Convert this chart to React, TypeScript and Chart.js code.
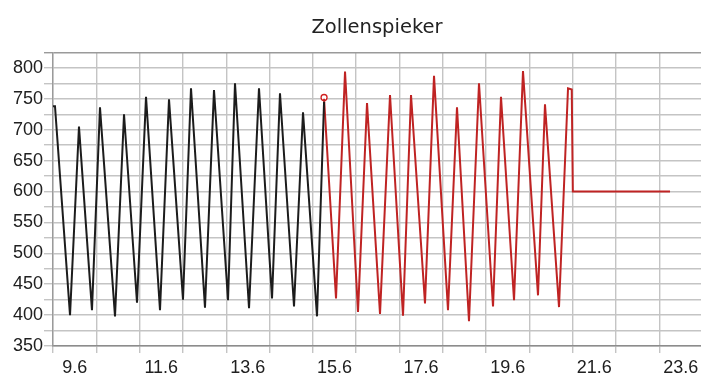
import React, { useEffect, useRef } from 'react';
import { Chart, registerables } from 'chart.js';

Chart.register(...registerables);

const chartTitle = 'Zollenspieker';

// measured water level (black)
const observedDays = [
  9.1, 9.146, 9.493, 9.7, 10.0, 10.185, 10.532, 10.74, 11.04, 11.248, 11.571, 11.779, 12.102,
  12.287, 12.61, 12.818, 13.142, 13.303, 13.627, 13.857, 14.158, 14.342, 14.666, 14.874, 15.197, 15.36,
];
const observedLevels = [
  738, 738, 400, 705, 408, 736, 398, 725, 420, 753, 408, 749, 425,
  767, 412, 764, 424, 775, 411, 767, 427, 759, 414, 728, 398, 745,
];

// forecast water level (red)
const forecastDays = [
  15.36, 15.636, 15.844, 16.144, 16.352, 16.652, 16.883, 17.183, 17.368, 17.691, 17.899, 18.222, 18.43,
  18.707, 18.938, 19.262, 19.446, 19.747, 19.954, 20.301, 20.462, 20.786, 20.994, 21.08, 21.105, 23.35,
];
const forecastLevels = [
  750, 427, 794, 405, 743, 402, 756, 399, 756, 419, 787, 408, 736,
  390, 775, 414, 753, 424, 795, 432, 741, 413, 767, 765, 600, 600,
];

// current time marker
const nowDays = [15.36];
const nowLevels = [752];

const xGridDays = [9.1, 10.1, 11.1, 12.1, 13.1, 14.1, 15.1, 16.1, 17.1, 18.1, 19.1, 20.1, 21.1, 22.1, 23.1];
const xLabelDays = [9.6, 11.6, 13.6, 15.6, 17.6, 19.6, 21.6, 23.6];
const yLabelLevels = [350, 400, 450, 500, 550, 600, 650, 700, 750, 800];

const X_MIN = 9.1;
const X_MAX = 24.065;
const Y_MIN = 350;
const Y_MAX = 825;
const Y_STEP = 25;

const near = (a: number, list: number[]) => list.some((v) => Math.abs(v - a) < 1e-6);

export default function App() {
  const ref = useRef<HTMLCanvasElement | null>(null);

  useEffect(() => {
    document.body.style.margin = '0';
    const canvas = ref.current;
    if (!canvas) return;

    const allXTicks = [...xGridDays, ...xLabelDays].sort((a, b) => a - b);

    const chart = new Chart(canvas, {
      type: 'line',
      data: {
        datasets: [
          {
            data: observedDays.map((d, i) => ({ x: d, y: observedLevels[i] })),
            borderColor: '#1c1c1c',
            borderWidth: 2,
            pointRadius: 0,
            tension: 0,
          },
          {
            data: forecastDays.map((d, i) => ({ x: d, y: forecastLevels[i] })),
            borderColor: '#bf2323',
            borderWidth: 2,
            pointRadius: 0,
            tension: 0,
          },
          {
            data: nowDays.map((d, i) => ({ x: d, y: nowLevels[i] })),
            showLine: false,
            pointRadius: 3,
            pointBorderWidth: 1.3,
            pointBorderColor: '#d02020',
            pointBackgroundColor: '#ffffff',
          },
        ],
      },
      options: {
        responsive: false,
        animation: false,
        devicePixelRatio: 1,
        layout: { autoPadding: false, padding: { left: 0, right: 0, top: 0, bottom: 0 } },
        plugins: {
          legend: { display: false },
          tooltip: { enabled: false },
          title: {
            display: true,
            text: chartTitle,
            fullSize: false,
            color: '#222222',
            font: { family: 'DejaVu Sans', size: 19.5, weight: 'normal' },
            padding: { top: 16, bottom: 13 },
          },
        },
        scales: {
          x: {
            type: 'linear',
            min: X_MIN,
            max: X_MAX,
            afterBuildTicks: (scale: any) => {
              scale.ticks = allXTicks.map((v) => ({ value: v }));
            },
            afterFit: (scale: any) => {
              scale.height = 30;
              scale.paddingRight = 0;
              scale.paddingLeft = 0;
            },
            ticks: {
              autoSkip: false,
              maxRotation: 0,
              minRotation: 0,
              padding: 4,
              color: '#202020',
              font: { family: 'Liberation Sans', size: 18 },
              callback: (value: any) => (near(Number(value), xLabelDays) ? Number(value).toFixed(1) : ''),
            },
            grid: {
              color: (ctx: any) => (ctx.tick && near(ctx.tick.value, xGridDays) ? '#c4c4c4' : 'rgba(0,0,0,0)'),
              lineWidth: 1.4,
              tickLength: 7,
              drawTicks: true,
            },
            border: { color: '#8c8c8c', width: 1.4 },
          },
          y: {
            type: 'linear',
            min: Y_MIN,
            max: Y_MAX,
            afterFit: (scale: any) => {
              scale.width = 53;
            },
            ticks: {
              stepSize: Y_STEP,
              autoSkip: false,
              padding: 1,
              color: '#202020',
              font: { family: 'Liberation Sans', size: 18 },
              callback: (value: any) => (near(Number(value), yLabelLevels) ? String(value) : ''),
            },
            grid: {
              color: (ctx: any) => (ctx.tick && ctx.tick.value === Y_MAX ? '#9a9a9a' : '#c4c4c4'),
              lineWidth: 1.4,
              tickLength: 9,
              drawTicks: true,
            },
            border: { color: '#9a9a9a', width: 1.4 },
          },
        },
      },
    });

    return () => chart.destroy();
  }, []);

  return (
    <div style={{ width: 701, height: 376 }}>
      <canvas ref={ref} width={701} height={376} style={{ display: 'block' }} />
    </div>
  );
}
